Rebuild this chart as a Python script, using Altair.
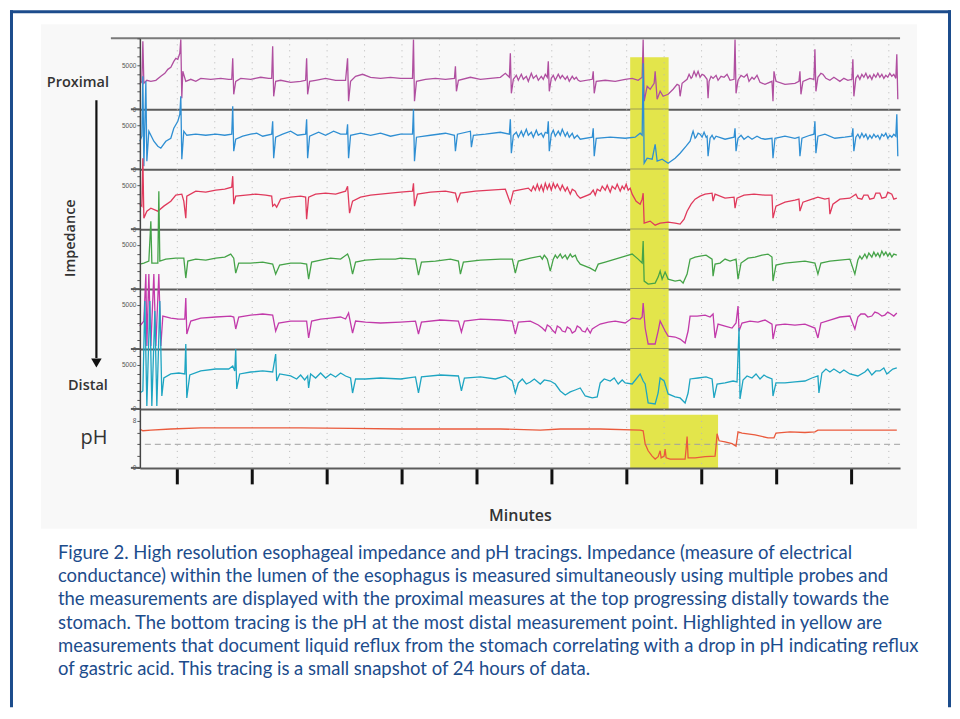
import altair as alt
import pandas as pd

# ---------------- data (time in seconds, impedance in ohms, pH units) ----------------
X_DOMAIN = [0, 609]
tick_seconds = [30, 90, 150, 210, 270, 330, 390, 450, 510, 570]
grid_seconds = [30, 60, 90, 120, 150, 180, 210, 240, 270, 300, 330, 360, 390, 420,
                450, 480, 510, 540, 570, 600]
imp_ticks = [0, 1000, 2000, 3000, 4000, 5000, 6000, 7000, 8000]
imp_labels = [0, 5000]
ph_ticks = [0, 2, 4, 6, 8]
ph_labels = [0, 8]
reflux_window = [392.8, 423.6]
acid_window = [392.8, 463.2]
reflux_top_z1 = 5890
imp_full = 6800
acid_top_ph = 9.0
ph_threshold = [4]

caption_lines = [
    "Figure 2. High resolution esophageal impedance and pH tracings. Impedance (measure of electrical",
    "conductance) within the lumen of the esophagus is measured simultaneously using multiple probes and",
    "the measurements are displayed with the proximal measures at the top progressing distally towards the",
    "stomach. The bottom tracing is the pH at the most distal measurement point. Highlighted in yellow are",
    "measurements that document liquid reflux from the stomach correlating with a drop in pH indicating reflux",
    "of gastric acid. This tracing is a small snapshot of 24 hours of data.",
]

z1 = [(0, 2830), (1.6, 3170), (2.4, 7710), (3.2, 2950), (5.6, 3290), (8.8, 3170), (12.8, 3290), (16.8, 3740),
      (20, 4080), (22.4, 4530), (24.8, 4760), (27.2, 5440), (28.8, 5780), (30.4, 5670), (32, 6350), (32.8, 7930),
      (33.6, 1250), (34.4, 4310), (36.8, 3170), (40.8, 3400), (44.8, 3170), (48.8, 3510), (56.8, 3400), (64.8, 3510),
      (71.2, 3400), (73.6, 3400), (74.4, 5780), (75.2, 1700), (76.8, 3170), (80.8, 3510), (88.8, 3400), (96.8, 3630),
      (103.2, 3510), (105.6, 3510), (106.4, 7140), (107.2, 1470), (108.8, 3170), (112.8, 3290), (120.8, 3060),
      (128.8, 3170), (132.8, 3290), (133.6, 5780), (134.4, 1700), (136, 3170), (140.8, 3290), (148.8, 3510),
      (156.8, 3290), (164.8, 3290), (166.4, 5780), (167.2, 910), (168.8, 3170), (172.8, 3740), (178.4, 3970),
      (184.8, 3630), (192.8, 3510), (200.8, 3630), (208.8, 3510), (218.4, 3510), (219.2, 7930), (220, 910),
      (221.6, 3170), (228.8, 3400), (236.8, 3510), (244.8, 3400), (252, 3510), (252.8, 4870), (253.6, 2040),
      (255.2, 3290), (264.8, 3630), (272.8, 3400), (280.8, 3510), (288.8, 3630), (292.8, 4080), (296, 3630),
      (296.8, 6350), (297.6, 1810), (299.2, 3400), (301.6, 3850), (303.2, 3290), (305.6, 3970), (307.2, 3400),
      (309.6, 3740), (311.2, 3170), (313.6, 4080), (315.2, 3510), (317.6, 3850), (319.2, 3290), (321.6, 3740),
      (323.2, 3400), (324.8, 3970), (326.4, 3630), (327.2, 5440), (328, 2040), (329.6, 3510), (331.2, 3850),
      (332.8, 3290), (335.2, 3970), (336.8, 3510), (338.4, 3850), (340.8, 3400), (342.4, 3740), (344, 3170),
      (346.4, 3740), (348, 3400), (349.6, 3630), (351.2, 3290), (352.8, 3170), (362.4, 3400), (363.2, 4310),
      (364, 1810), (365.6, 3170), (372.8, 3290), (380.8, 3170), (388.8, 3400), (394.4, 3510), (399.2, 3290),
      (402.4, 3630), (403.2, 7930), (404, 910), (406.4, 2610), (408.8, 2270), (412, 2950), (412.8, 4310),
      (414.4, 1130), (416.8, 2040), (419.2, 1470), (423.2, 1700), (427.2, 2270), (430.4, 2830), (432, 2720),
      (432.8, 1470), (434.4, 2950), (438.4, 3400), (440, 3970), (441.6, 3510), (442.4, 3630), (444, 4310),
      (445.6, 3740), (447.2, 4310), (448.8, 3630), (450.4, 3970), (452, 3850), (454.4, 3400), (455.2, 1250),
      (456, 3170), (457.6, 3740), (459.2, 3510), (461.6, 3850), (463.2, 3290), (465.6, 3740), (468, 3630),
      (470.4, 3970), (472.8, 3290), (476, 3400), (476.8, 7930), (477.6, 1810), (479.2, 3290), (481.6, 3850),
      (484, 3630), (486.4, 3970), (488, 3170), (490.4, 3630), (492, 3400), (494.4, 3850), (496.8, 3060),
      (500.8, 2830), (506.4, 3170), (507.2, 910), (508, 4310), (509.6, 3170), (516.8, 2830), (524.8, 2950),
      (528, 3170), (528.8, 4310), (529.6, 1700), (531.2, 3170), (536.8, 3510), (540, 3400), (540.8, 6800),
      (541.6, 2040), (543.2, 3630), (545.6, 4080), (547.2, 3970), (549.6, 3510), (552.8, 3290), (556, 3630),
      (560.8, 3170), (564, 3510), (567.2, 3290), (570.4, 3400), (571.2, 5670), (572, 1470), (573.6, 3510),
      (575.2, 3850), (576.8, 3400), (578.4, 3970), (580, 3630), (581.6, 4080), (583.2, 3510), (584.8, 3850),
      (586.4, 3400), (588, 3970), (589.6, 3630), (591.2, 4080), (592.8, 3630), (594.4, 3970), (596, 3510),
      (597.6, 3850), (599.2, 3630), (600.8, 4080), (602.4, 3740), (604, 3970), (605.6, 3510), (606.4, 6230),
      (607.2, 1130)]

z2 = [(0, 3170), (1.6, 3740), (2.4, 10540), (3.2, 340), (4.8, 9970), (5.6, 910), (7.2, 4310), (11.2, 3170),
      (14.4, 2610), (16.8, 2380), (20.8, 3170), (24.8, 3510), (27.2, 4650), (30.4, 5440), (32, 6230), (32.8, 8270),
      (33.6, 1130), (35.2, 4310), (37.6, 3850), (44.8, 3970), (52.8, 3850), (60.8, 3970), (68, 3850), (73.6, 3970),
      (74.4, 7140), (75.2, 2040), (76.8, 3400), (82.4, 3740), (88.8, 3970), (93.6, 4080), (98.4, 3740),
      (105.6, 3970), (106.4, 5440), (107.2, 1250), (108.8, 3630), (114.4, 3970), (120.8, 4310), (126.4, 3850),
      (132.8, 3970), (133.6, 5670), (134.4, 1250), (136, 3740), (143.2, 4190), (148.8, 3850), (155.2, 4310),
      (160.8, 3970), (165.6, 3970), (166.4, 5100), (167.2, 1250), (168.8, 3850), (176.8, 4080), (184.8, 3850),
      (192.8, 4080), (200.8, 3740), (208.8, 3970), (218.4, 3970), (219.2, 6800), (220, 910), (221.6, 3630),
      (232.8, 3850), (244.8, 4080), (252, 3850), (252.8, 2040), (254.4, 3970), (264.8, 4310), (265.6, 2490),
      (267.2, 3850), (276.8, 3970), (288.8, 4190), (296, 3970), (296.8, 5670), (297.6, 1810), (299.2, 3850),
      (301.6, 4190), (303.2, 3630), (305.6, 4310), (307.2, 3740), (309.6, 4530), (311.2, 3850), (313.6, 4190),
      (315.2, 3630), (317.6, 4420), (319.2, 3850), (321.6, 4080), (323.2, 3630), (324.8, 4190), (326.4, 4080),
      (327.2, 5440), (328, 2040), (329.6, 3970), (331.2, 4420), (332.8, 3740), (335.2, 4310), (336.8, 3850),
      (338.4, 4530), (340.8, 3740), (342.4, 4190), (344, 3630), (346.4, 4080), (348, 3510), (350.4, 3850),
      (352.8, 3400), (362.4, 3630), (363.2, 4650), (364, 1470), (365.6, 3510), (376.8, 3630), (388.8, 3510),
      (396.8, 3630), (400.8, 4080), (402.4, 3850), (403.2, 12010), (404, 680), (406.4, 1250), (410.4, 1130),
      (412.8, 2830), (414.4, 910), (418.4, 1130), (423.2, 680), (428.8, 1250), (432.8, 1810), (437.6, 2610),
      (440.8, 3170), (442.4, 3970), (443.2, 4310), (444.8, 3510), (445.6, 3630), (447.2, 4080), (448.8, 3970),
      (450.4, 3630), (452, 4190), (453.6, 3630), (454.4, 3740), (455.2, 1470), (456.8, 3510), (458.4, 3850),
      (460, 3400), (461.6, 3740), (468.8, 3400), (476, 3630), (476.8, 4650), (477.6, 2040), (479.2, 3510),
      (481.6, 3850), (484, 3400), (487.2, 3740), (490.4, 3400), (494.4, 3740), (497.6, 3510), (500.8, 3400),
      (506.4, 3510), (507.2, 1250), (508.8, 3510), (516.8, 3740), (524.8, 3510), (528, 3630), (528.8, 1470),
      (530.4, 3510), (536.8, 3850), (540, 3970), (540.8, 5440), (541.6, 1810), (543.2, 3740), (548.8, 3970),
      (556.8, 3510), (564.8, 3630), (570.4, 3740), (571.2, 4650), (572, 2040), (573.6, 3630), (575.2, 3970),
      (576.8, 3510), (578.4, 4080), (580, 3630), (581.6, 3970), (583.2, 3400), (584.8, 3850), (586.4, 3510),
      (588, 3970), (589.6, 3630), (591.2, 3850), (592.8, 3400), (594.4, 3970), (596, 3740), (597.6, 4080),
      (599.2, 3510), (600.8, 3850), (602.4, 3630), (604, 3970), (605.6, 3740), (606.4, 6230), (607.2, 1470)]

z3 = [(0, 2830), (1.6, 2610), (2.4, 8050), (3.2, 1250), (5.6, 2040), (8.8, 2380), (14.4, 2040), (19.2, 2610),
      (24.8, 3170), (28.8, 3850), (33.6, 3970), (35.2, 3170), (36.8, 1250), (37.6, 3740), (44.8, 4310),
      (52.8, 4190), (60.8, 4420), (68, 4530), (73.6, 4760), (74.4, 6010), (75.2, 2830), (76.8, 3740), (84.8, 3850),
      (92.8, 3970), (100.8, 3850), (105.6, 3740), (106.4, 2610), (108, 2830), (109.6, 2490), (112.8, 3400),
      (120.8, 3630), (128.8, 3740), (132.8, 3630), (133.6, 1130), (135.2, 3630), (140.8, 3970), (148.8, 4080),
      (156.8, 3970), (164.8, 4310), (166.4, 4870), (168, 1810), (170.4, 3170), (176.8, 3630), (184.8, 3850),
      (192.8, 3970), (200.8, 4080), (208.8, 4190), (218.4, 4310), (219.2, 5210), (220, 2610), (222.4, 3970),
      (232.8, 4190), (244.8, 4310), (252.8, 4080), (254.4, 3170), (256.8, 4080), (268.8, 4310), (280.8, 4420),
      (292.8, 4530), (296.8, 2950), (299.2, 4310), (311.2, 4650), (313.6, 4310), (315.2, 4870), (316.8, 4420),
      (318.4, 5100), (320, 4420), (321.6, 4990), (323.2, 4310), (324.8, 5210), (326.4, 4530), (328, 5100),
      (329.6, 4420), (331.2, 5210), (332.8, 4650), (334.4, 5100), (336.8, 4420), (338.4, 4990), (340.8, 4310),
      (342.4, 4760), (344.8, 3970), (346.4, 4530), (348.8, 4310), (350.4, 3850), (352.8, 3510), (360.8, 3970),
      (363.2, 4420), (364.8, 3850), (366.4, 4530), (368.8, 4310), (370.4, 4870), (372.8, 4420), (374.4, 4990),
      (376.8, 4190), (378.4, 4870), (380.8, 4530), (382.4, 5100), (384.8, 4310), (386.4, 4870), (388, 4530),
      (389.6, 5100), (391.2, 4420), (392.8, 4650), (394.4, 3970), (397.6, 3170), (400.8, 2830), (402.4, 3400),
      (403.2, 4080), (404, 680), (408.8, 910), (412.8, 450), (416.8, 680), (423.2, 790), (428.8, 680),
      (432.8, 570), (436, 1130), (438.4, 2040), (441.6, 2830), (444.8, 3400), (448.8, 3740), (452.8, 3970),
      (458.4, 4080), (459.2, 3170), (460.8, 3970), (468.8, 3510), (476, 3630), (476.8, 2380), (478.4, 3510),
      (484, 3850), (492, 3970), (500.8, 3850), (506.4, 3850), (507.2, 1250), (509.6, 2610), (516.8, 3060),
      (524.8, 3290), (528, 3400), (528.8, 2040), (531.2, 3060), (538.4, 3400), (543.2, 3630), (548.8, 3400),
      (552, 3510), (552.8, 1700), (555.2, 2830), (560.8, 3400), (568.8, 3510), (573.6, 3970), (575.2, 3510),
      (578.4, 3400), (580, 3850), (583.2, 3850), (584.8, 3400), (588, 3510), (589.6, 4080), (592.8, 4080),
      (594.4, 3510), (597.6, 3630), (599.2, 4190), (602.4, 3970), (604, 3400), (606.4, 3510)]

z4 = [(0, 2830), (3.2, 2950), (7.2, 3170), (8.8, 7700), (9.6, 2950), (14.4, 2950), (15.2, 11100), (16, 3170),
      (20.8, 3400), (28.8, 3510), (35.2, 3510), (36.8, 1250), (38.4, 3170), (44.8, 3400), (52.8, 3290),
      (60.8, 3510), (68, 3630), (72.8, 3970), (75.2, 3510), (76.8, 1810), (79.2, 2950), (88.8, 2950),
      (98.4, 3060), (106.4, 2830), (108.8, 1700), (112, 2720), (120.8, 2950), (128.8, 2950), (133.6, 2830),
      (135.2, 1130), (137.6, 3060), (144.8, 3290), (152.8, 3510), (160.8, 3400), (166.4, 3970), (168, 3400),
      (170.4, 1700), (172.8, 3060), (180.8, 3290), (192.8, 3400), (204.8, 3400), (208.8, 3510), (220.8, 3400),
      (223.2, 1590), (225.6, 3060), (236.8, 3170), (248.8, 3400), (255.2, 3170), (256.8, 1700), (259.2, 3060),
      (272.8, 3290), (288.8, 3400), (298.4, 3400), (300.8, 1810), (303.2, 3170), (312.8, 3510), (320.8, 3740),
      (322.4, 3400), (324, 3850), (326.4, 3400), (328.8, 2040), (331.2, 3400), (332.8, 3850), (334.4, 3510),
      (336.8, 3970), (338.4, 3510), (340.8, 3850), (342.4, 3400), (344.8, 3970), (346.4, 3630), (348.8, 3850),
      (350.4, 3290), (352.8, 2830), (360.8, 2380), (364.8, 2040), (367.2, 2830), (372.8, 3060), (380.8, 3400),
      (388.8, 3740), (394.4, 3970), (399.2, 3400), (402.4, 2950), (403.2, 5440), (404, 910), (407.2, 570),
      (412.8, 680), (415.2, 1360), (416.8, 2040), (418.4, 1130), (420.8, 1930), (423.2, 1130), (428.8, 910),
      (432.8, 1020), (435.2, 680), (438.4, 1700), (440.8, 3400), (444.8, 3630), (448.8, 3740), (453.6, 3850),
      (458.4, 3400), (459.2, 1470), (460.8, 2830), (464.8, 2950), (468.8, 3400), (472.8, 3170), (477.6, 3400),
      (479.2, 1130), (481.6, 2950), (487.2, 3510), (492.8, 3630), (498.4, 3850), (503.2, 3970), (506.4, 3630),
      (507.2, 910), (509.6, 2720), (516.8, 2950), (524.8, 3060), (532.8, 3170), (540.8, 2950), (543.2, 1700),
      (545.6, 2950), (552.8, 3170), (560.8, 3290), (568.8, 3400), (572.8, 1700), (575.2, 3290), (576.8, 3740),
      (578.4, 3400), (580.8, 3970), (582.4, 3510), (584, 4080), (586.4, 3630), (588, 4190), (589.6, 3740),
      (591.2, 4080), (592.8, 3630), (594.4, 4310), (596, 3850), (597.6, 4190), (599.2, 3740), (600.8, 4080),
      (602.4, 3630), (604, 3970), (606.4, 3850)]

z5 = [(0, 2610), (3.2, 3170), (4.8, 8500), (5.6, 340), (7.2, 8500), (8.8, 340), (11.2, 8500), (12.8, 340),
      (15.2, 8500), (16.8, 340), (18.4, 3740), (24.8, 3510), (31.2, 3400), (36, 3400), (36.8, 5780), (37.6, 1700),
      (40.8, 3170), (48.8, 3510), (60.8, 3630), (72.8, 3740), (75.2, 3630), (76.8, 2270), (79.2, 3630),
      (88.8, 3850), (98.4, 3970), (106.4, 3850), (108.8, 2040), (111.2, 2950), (120.8, 3170), (128.8, 3170),
      (133.6, 3170), (135.2, 1250), (137.6, 3170), (144.8, 3400), (152.8, 3510), (160.8, 3630), (164.8, 3400),
      (167.2, 4080), (170.4, 1810), (172.8, 3170), (180.8, 3060), (192.8, 2950), (208.8, 3060), (220.8, 3170),
      (223.2, 1700), (225.6, 3060), (240.8, 3290), (255.2, 3170), (257.6, 1930), (260, 3170), (272.8, 3400),
      (288.8, 3290), (298.4, 3170), (300.8, 1700), (303.2, 3060), (312.8, 3170), (319.2, 2720), (322.4, 2380),
      (324.8, 2040), (326.4, 2720), (328.8, 2490), (330.4, 2150), (332.8, 1810), (334.4, 2610), (336.8, 2380),
      (338.4, 2040), (340.8, 1930), (342.4, 2490), (344.8, 2270), (346.4, 1810), (348.8, 2040), (350.4, 2610),
      (352.8, 2380), (354.4, 2040), (356.8, 1930), (358.4, 2380), (360.8, 1810), (362.4, 2270), (364.8, 2490),
      (368.8, 2830), (375.2, 3060), (380.8, 3170), (388.8, 2950), (394.4, 3510), (400.8, 3400), (402.4, 3630),
      (403.2, 5210), (404.8, 2380), (407.2, 570), (412.8, 570), (415.2, 2040), (416.8, 3170), (419.2, 2490),
      (420.8, 2040), (423.2, 1470), (428.8, 1360), (432.8, 1130), (436.8, 680), (439.2, 2040), (440.8, 3740),
      (446.4, 3740), (452.8, 3850), (456.8, 3630), (459.2, 3970), (460.8, 1250), (463.2, 2830), (468.8, 2610),
      (474.4, 2380), (477.6, 2950), (479.2, 4870), (480, 2040), (482.4, 2950), (488.8, 3170), (495.2, 3060),
      (500.8, 3290), (506.4, 2830), (507.2, 1130), (509.6, 2720), (516.8, 2830), (524.8, 2720), (532.8, 2830),
      (540.8, 2380), (543.2, 1250), (545.6, 2950), (552.8, 3290), (560.8, 3630), (568.8, 3740), (572.8, 2270),
      (575.2, 3630), (577.6, 3970), (580.8, 3970), (583.2, 3630), (586.4, 3740), (588.8, 4190), (591.2, 4080),
      (594.4, 3740), (596.8, 3850), (599.2, 4190), (601.6, 3970), (604, 3740), (606.4, 4080)]

z6 = [(0, 1810), (2.4, 2040), (4, 12240), (5.6, 340), (8, 12240), (9.6, 340), (12, 11100), (13.6, 340),
      (16, 12240), (17.6, 1470), (19.2, 3510), (24.8, 3970), (31.2, 4080), (36, 3970), (36.8, 7370), (37.6, 1250),
      (40, 3850), (48.8, 4310), (60.8, 4530), (71.2, 4530), (74.4, 4870), (76, 4310), (76.8, 6800), (77.6, 2270),
      (80, 3970), (88.8, 4190), (98.4, 4310), (106.4, 4190), (108.8, 6230), (109.6, 3170), (112, 3970),
      (120.8, 3740), (125.6, 3400), (128.8, 3850), (132, 3290), (134.4, 3740), (135.2, 2380), (136.8, 3970),
      (140.8, 3510), (144.8, 4080), (148.8, 3510), (152.8, 3970), (156.8, 3630), (160.8, 4080), (164.8, 3740),
      (168.8, 3510), (170.4, 1810), (172.8, 3400), (180.8, 3400), (192.8, 3510), (208.8, 3400), (220.8, 3630),
      (223.2, 1810), (225.6, 3630), (240.8, 3850), (255.2, 3740), (257.6, 2040), (260, 3510), (272.8, 3630),
      (284.8, 3400), (292.8, 3740), (298.4, 3170), (300.8, 1810), (303.2, 2950), (306.4, 3400), (309.6, 2830),
      (312.8, 3060), (316, 3400), (320.8, 2830), (324, 3290), (328.8, 3170), (332.8, 2830), (336.8, 2040),
      (340.8, 1590), (344.8, 1930), (348.8, 2150), (352.8, 2380), (356.8, 1470), (362.4, 1250), (366.4, 1360),
      (368.8, 2950), (372, 3400), (376.8, 3170), (380, 3510), (383.2, 2830), (386.4, 3290), (388.8, 2950),
      (394.4, 2830), (397.6, 3400), (400.8, 3970), (403.2, 3170), (404.8, 2830), (407.2, 680), (412.8, 570),
      (415.2, 1810), (416.8, 3510), (420, 3170), (423.2, 1700), (428.8, 1360), (432.8, 1250), (436.8, 680),
      (439.2, 1810), (440.8, 3400), (447.2, 3510), (453.6, 3630), (458.4, 3400), (460, 1250), (462.4, 2830),
      (468.8, 2950), (475.2, 3170), (478.4, 3060), (480, 9180), (480.8, 1130), (483.2, 3290), (486.4, 3740),
      (490.4, 3510), (493.6, 3970), (496.8, 3400), (500, 3850), (502.4, 3630), (506.4, 3400), (507.2, 1470),
      (509.6, 2950), (516.8, 2950), (524.8, 3060), (532.8, 3170), (538.4, 3510), (543.2, 3740), (544, 1810),
      (546.4, 4080), (549.6, 4530), (552.8, 4190), (556, 4530), (560.8, 4080), (564, 4420), (568.8, 3970),
      (575.2, 3740), (580.8, 4190), (583.2, 4530), (586.4, 3850), (589.6, 4310), (592.8, 4310), (596, 4650),
      (598.4, 3970), (603.2, 4530), (606.4, 4650)]

ph = [(0, 6.6), (2.4, 6.3), (8.8, 6.4), (24.8, 6.6), (48.8, 6.8), (88.8, 6.8), (128.8, 6.8), (168.8, 6.7),
      (208.8, 6.6), (248.8, 6.6), (288.8, 6.6), (320.8, 6.4), (336.8, 6.6), (368.8, 6.6), (400.8, 6.4),
      (403.2, 6.3), (404.8, 4.1), (407.2, 2.9), (410.4, 2.0), (412.8, 1.5), (415.2, 1.9), (416.8, 2.9),
      (417.6, 1.7), (420, 2.0), (420.8, 3.2), (421.6, 1.7), (424.8, 1.5), (431.2, 1.5), (436.8, 1.5),
      (437.6, 3.2), (438.4, 5.3), (439.2, 1.7), (444.8, 1.7), (452.8, 1.9), (460.8, 2.0), (461.6, 3.7),
      (462.4, 5.8), (464, 4.6), (468.8, 4.4), (474.4, 4.1), (477.6, 3.7), (479.2, 6.1), (482.4, 5.9),
      (492.8, 5.6), (503.2, 5.1), (508, 5.1), (509.6, 5.9), (520.8, 6.1), (532.8, 6.0), (540.8, 6.1),
      (543.2, 6.4), (560.8, 6.4), (584.8, 6.4), (606.4, 6.4)]

# ---------------- styling ----------------
W = 761
BLUE = "#1c4c8c"
YELLOW = "#e3e54b"
TXT = "#333333"
DIV = "#5c5c5c"
COLORS = ["#b04fa0", "#2f8fd3", "#e03a5c", "#45a348", "#c23aaa", "#1ea5c2", "#ea5a3c"]
one = pd.DataFrame({"k": [0]})
grid_df = pd.DataFrame({"t": grid_seconds})


def make_panel(points, color, ymax, height, yticks, ylabels, window, top,
               bottom=False, under=(), over=(), threshold=None):
    xs = alt.Scale(domain=X_DOMAIN, nice=False, zero=False)
    if bottom:
        xaxis = alt.Axis(values=tick_seconds, ticks=True, tickSize=16, tickWidth=3, tickColor="#111",
                         labels=False, grid=False, domain=True, domainColor=DIV, domainWidth=2,
                         title="Minutes", titleFont="Open Sans", titleFontSize=16, titleFontWeight=600,
                         titleColor=TXT, titlePadding=22, zindex=2)
    else:
        xaxis = alt.Axis(values=tick_seconds, ticks=False, labels=False, grid=False, domain=True,
                         domainColor=DIV, domainWidth=2, title=None, zindex=2)
    X = alt.X("t:Q", scale=xs, axis=xaxis)
    expr = "(" + " || ".join(f"datum.value == {v}" for v in ylabels) + ") ? datum.label : ''"
    yaxis = alt.Axis(values=yticks, format="d", labelExpr=expr, labelFontSize=6.5, labelColor="#555",
                     labelPadding=1, labelFlush=False, tickSize=3, tickColor="#555", domainColor="#444",
                     domainWidth=1.5, grid=False, title=None, zindex=2)
    Y = alt.Y("v:Q", scale=alt.Scale(domain=[0, ymax], nice=False, zero=False), axis=yaxis)
    hl_df = pd.DataFrame({"t": [window[0]], "t2": [window[1]], "v": [0], "v2": [top]})
    layers = list(under)
    layers.append(alt.Chart(hl_df).mark_rect(color=YELLOW).encode(
        x=X, x2=alt.X2("t2"), y=Y, y2=alt.Y2("v2")))
    layers.append(alt.Chart(grid_df).mark_rule(color="#b8b8b8", strokeWidth=1, strokeDash=[1, 5]).encode(x=X))
    if threshold is not None:
        layers.append(alt.Chart(pd.DataFrame({"v": threshold})).mark_rule(
            color="#a0a0a0", strokeWidth=1, strokeDash=[6, 4]).encode(y=Y))
    line_df = pd.DataFrame(points, columns=["t", "v"])
    layers.append(alt.Chart(line_df).mark_line(color=color, strokeWidth=1.3).encode(x=X, y=Y))
    # short extension of the panel divider to the left of the axis
    layers.append(alt.Chart(one).mark_rule(color=DIV, strokeWidth=2).encode(
        x=alt.value(-9), x2=alt.value(0), y=alt.value(height)))
    layers += list(over)
    return alt.layer(*layers).properties(width=W, height=height)


# decorations (frame, background, left labels, arrow), positioned relative to the first panel
bg = alt.Chart(one).mark_rect(color="#f8f8f8").encode(
    x=alt.value(-99), x2=alt.value(778), y=alt.value(-14), y2=alt.value(491))
frame_top = alt.Chart(one).mark_rule(color=BLUE, strokeWidth=3, strokeCap="square").encode(
    x=alt.value(-128.5), x2=alt.value(810.5), y=alt.value(-26.5))
frame_left = alt.Chart(one).mark_rule(color=BLUE, strokeWidth=3, strokeCap="square").encode(
    x=alt.value(-128.5), y=alt.value(-26.5), y2=alt.value(668))
frame_right = alt.Chart(one).mark_rule(color=BLUE, strokeWidth=3, strokeCap="square").encode(
    x=alt.value(810.5), y=alt.value(-26.5), y2=alt.value(668))
top_line = alt.Chart(one).mark_rule(color="#7a7a7a", strokeWidth=2).encode(
    x=alt.value(-29), x2=alt.value(W), y=alt.value(0))


def label(text, x, y, size=14.5, weight=600, angle=0):
    return alt.Chart(one).mark_text(text=text, font="Open Sans", fontSize=size, fontWeight=weight,
                                    color=TXT, align="center", baseline="middle", angle=angle).encode(
        x=alt.value(x), y=alt.value(y))


arrow_line = alt.Chart(one).mark_rule(color="#111", strokeWidth=2.2).encode(
    x=alt.value(-43.5), y=alt.value(62), y2=alt.value(320))
arrow_head = alt.Chart(one).mark_point(shape="triangle-down", filled=True, size=110, color="#111",
                                       opacity=1).encode(x=alt.value(-43.5), y=alt.value(325))

deco_over = [top_line, frame_top, frame_left, frame_right,
             label("Proximal", -62, 45), label("Distal", -52, 348),
             label("pH", -46, 400, size=20, weight=400),
             label("Impedance", -69, 200, angle=270),
             arrow_line, arrow_head]

p1 = make_panel(z1, COLORS[0], 8050, 71, imp_ticks, imp_labels, reflux_window, reflux_top_z1,
                under=[bg], over=deco_over)
p2 = make_panel(z2, COLORS[1], imp_full, 60, imp_ticks, imp_labels, reflux_window, imp_full)
p3 = make_panel(z3, COLORS[2], imp_full, 60, imp_ticks, imp_labels, reflux_window, imp_full)
p4 = make_panel(z4, COLORS[3], imp_full, 60, imp_ticks, imp_labels, reflux_window, imp_full)
p5 = make_panel(z5, COLORS[4], imp_full, 60, imp_ticks, imp_labels, reflux_window, imp_full)
p6 = make_panel(z6, COLORS[5], imp_full, 60, imp_ticks, imp_labels, reflux_window, imp_full)
p7 = make_panel(ph, COLORS[6], 10, 59, ph_ticks, ph_labels, acid_window, acid_top_ph,
                bottom=True, threshold=ph_threshold)

cap_df = pd.DataFrame({"line": list(range(len(caption_lines))), "txt": caption_lines})
caption = alt.Chart(cap_df).mark_text(align="left", baseline="middle", font="Lato", fontSize=18.5,
                                      color=BLUE).encode(
    x=alt.value(-82),
    y=alt.Y("line:O", axis=None, scale=alt.Scale(range=[85, 201.5], padding=0)),
    text="txt:N",
).properties(width=W, height=202)

chart = alt.vconcat(p1, p2, p3, p4, p5, p6, p7, caption, spacing=0, bounds="flush").properties(
    padding={"left": 1, "top": 1, "right": 0, "bottom": 0}, background="white"
).configure_view(stroke=None)

chart.save("out.html", embed_options={"renderer": "svg", "actions": False})
